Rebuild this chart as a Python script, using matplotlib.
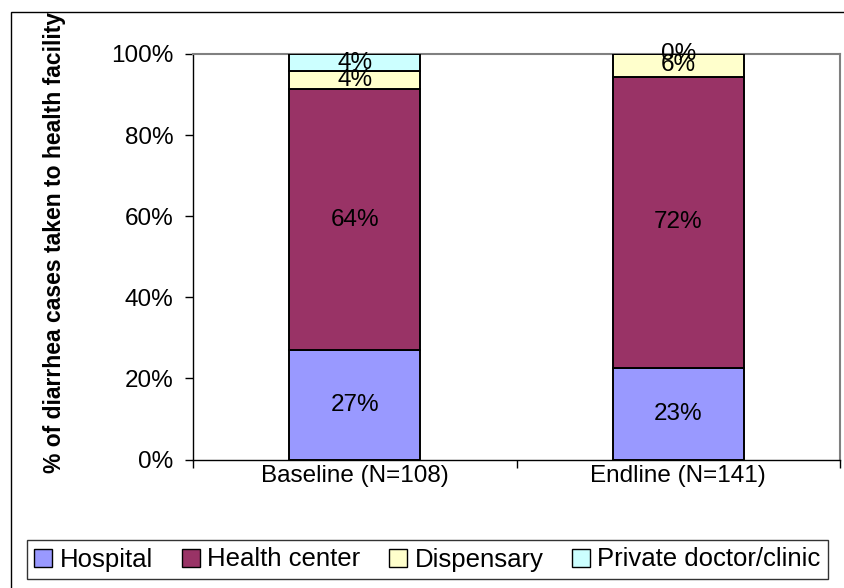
import matplotlib
matplotlib.use("Agg")
import matplotlib.pyplot as plt
from matplotlib.patches import Rectangle, Patch

plt.rcParams['font.family'] = ['Liberation Sans', 'DejaVu Sans']

# Survey rounds and share of diarrhea cases by facility type (%)
rounds = ["Baseline (N=108)", "Endline (N=141)"]
facilities = ["Hospital", "Health center", "Dispensary", "Private doctor/clinic"]
hospital = [26.9, 22.6]
health_center = [64.4, 71.8]
dispensary = [4.4, 5.6]
private_clinic = [4.3, 0.0]
y_ticks = [0, 20, 40, 60, 80, 100]

series = [hospital, health_center, dispensary, private_clinic]
colors = ["#9999FF", "#993366", "#FFFFCC", "#CCFFFF"]

W, H = 844, 588
fig = plt.figure(figsize=(W / 100, H / 100), dpi=100)
ax = fig.add_axes([193 / W, 1 - 459.5 / H, (840 - 193) / W, (459.5 - 54) / H])

# chart-area frame
fig.add_artist(Rectangle((11 / W, -0.1), 1.2, 1 - 12 / H + 0.1,
                         transform=fig.transFigure, fill=False,
                         edgecolor="black", linewidth=1.0))

FS = 17.5
x = list(range(len(rounds)))
bar_w = 0.405
bottoms = [0.0] * len(rounds)
for vals, col, name in zip(series, colors, facilities):
    ax.bar(x, vals, width=bar_w, bottom=bottoms, color=col,
           edgecolor="black", linewidth=1.4, label=name, zorder=3)
    for xi, v, b in zip(x, vals, bottoms):
        ax.text(xi, b + v / 2, f"{v:.0f}%", ha="center", va="center",
                fontsize=FS, color="black", zorder=4)
    bottoms = [b + v for b, v in zip(bottoms, vals)]

ax.set_xlim(-0.5, len(rounds) - 0.5)
ax.set_ylim(0, 100)
ax.set_yticks(y_ticks)
ax.set_yticklabels([f"{t}%" for t in y_ticks])
ax.tick_params(axis="y", direction="out", length=6, width=1, pad=8,
               labelsize=FS)

# category separators as major ticks, labels on minor ticks
ax.set_xticks([i - 0.5 for i in range(len(rounds) + 1)])
ax.set_xticklabels([])
ax.tick_params(axis="x", which="major", direction="out", length=6, width=1)
ax.set_xticks(x, minor=True)
ax.set_xticklabels(rounds, minor=True)
ax.tick_params(axis="x", which="minor", length=0, pad=4, labelsize=FS)

for side in ("left", "bottom"):
    ax.spines[side].set_color("black")
    ax.spines[side].set_linewidth(1.0)
for side in ("top", "right"):
    ax.spines[side].set_color("#808080")
    ax.spines[side].set_linewidth(1.5)

ax.set_ylabel("% of diarrhea cases taken to health facility",
              fontsize=16.5, fontweight="bold")
ax.yaxis.set_label_coords(-(193 - 66) / (840 - 193), (459.5 - 242) / 405.5)

handles = [Patch(facecolor=c, edgecolor="black", linewidth=1.0) for c in colors]
leg = fig.legend(handles, facilities, loc="center",
                 bbox_to_anchor=((22 + 833) / 2 / W, 1 - 559.5 / H),
                 ncol=4, fontsize=18.5, frameon=True, fancybox=False,
                 edgecolor="black", handlelength=0.7, handleheight=0.7,
                 handletextpad=0.3, columnspacing=1.1, borderpad=0.3)
leg.get_frame().set_linewidth(1.0)

fig.savefig("out.png", dpi=100)
